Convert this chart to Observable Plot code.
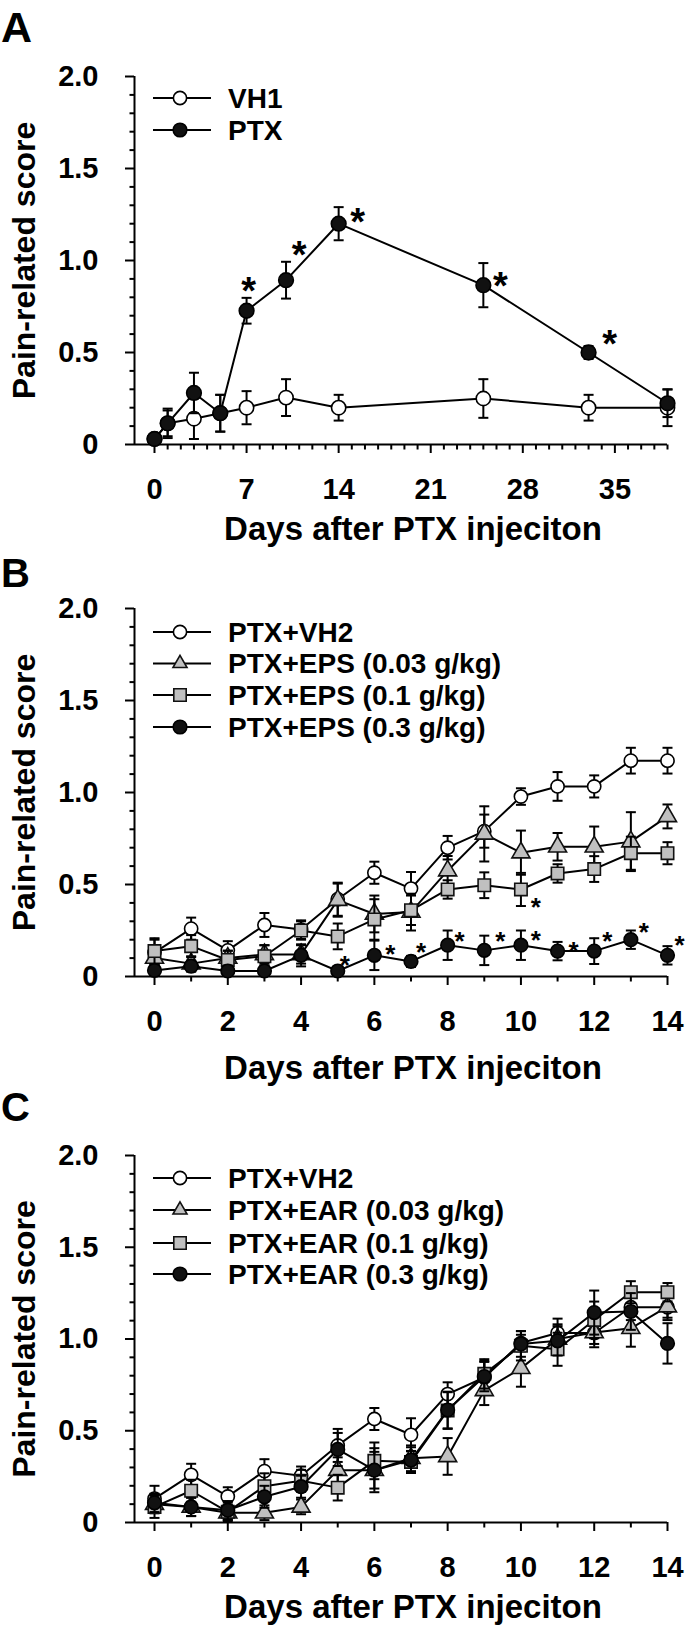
<!DOCTYPE html>
<html>
<head>
<meta charset="utf-8">
<script src="https://cdn.jsdelivr.net/npm/d3@7"></script>
<script src="https://cdn.jsdelivr.net/npm/@observablehq/plot@0.6"></script>
<style>
  body { margin: 0; background: #fff; }
  #fig { position: relative; width: 689px; height: 1640px; background: #fff;
         font-family: Arial, "Liberation Sans", sans-serif; font-weight: bold; color: #000; }
  #fig svg { position: absolute; left: 0; }
</style>
</head>
<body>
<div id="fig"></div>
<script>
// ---------------- DATA ----------------
// Panel A
const daysA = [0, 1, 3, 5, 7, 10, 14, 25, 33, 39];
const vh1    = [0.03, 0.115, 0.14, 0.17, 0.20, 0.255, 0.20, 0.25, 0.20, 0.20];
const vh1Err = [0, 0.07, 0.11, 0.10, 0.09, 0.10, 0.07, 0.105, 0.07, 0.10];
const ptx    = [0.03, 0.115, 0.28, 0.17, 0.727, 0.893, 1.20, 0.866, 0.50, 0.224];
const ptxErr = [0, 0.08, 0.11, 0.10, 0.07, 0.10, 0.09, 0.12, 0.035, 0.075];
const ptxStarDays = [7, 10, 14, 25, 33];
const xTicksA = [0, 7, 14, 21, 28, 35];
const xMinorA = [1,2,3,4,5,6,8,9,10,11,12,13,15,16,17,18,19,20,22,23,24,25,26,27,29,30,31,32,33,34,36,37,38,39];

// Panels B and C (days 0..14)
const daysBC = [0, 1, 2, 3, 4, 5, 6, 7, 8, 9, 10, 11, 12, 13, 14];
const vh2    = [0.13, 0.26, 0.142, 0.28, 0.255, 0.42, 0.564, 0.478, 0.70, 0.79, 0.978, 1.033, 1.033, 1.173, 1.173];
const vh2Err = [0.07, 0.06, 0.05, 0.065, 0.05, 0.09, 0.06, 0.09, 0.064, 0.09, 0.045, 0.078, 0.06, 0.07, 0.07];

const eps003    = [0.10, 0.07, 0.10, 0.12, 0.12, 0.415, 0.34, 0.35, 0.575, 0.775, 0.673, 0.705, 0.705, 0.733, 0.87];
const eps003Err = [0.05, 0.04, 0.04, 0.05, 0.05, 0.09, 0.10, 0.10, 0.08, 0.15, 0.12, 0.075, 0.11, 0.16, 0.065];
const eps01     = [0.138, 0.165, 0.09, 0.11, 0.25, 0.218, 0.31, 0.36, 0.473, 0.496, 0.473, 0.56, 0.584, 0.67, 0.67];
const eps01Err  = [0.07, 0.06, 0.05, 0.06, 0.05, 0.07, 0.11, 0.08, 0.05, 0.07, 0.09, 0.05, 0.07, 0.09, 0.06];
const eps03     = [0.033, 0.056, 0.03, 0.03, 0.115, 0.03, 0.115, 0.082, 0.17, 0.142, 0.17, 0.138, 0.138, 0.20, 0.115];
const eps03Err  = [0.03, 0.03, 0.03, 0.03, 0.06, 0.02, 0.08, 0.03, 0.08, 0.08, 0.08, 0.05, 0.07, 0.05, 0.05];
const eps03StarDays = [5, 6, 7, 8, 9, 10, 11, 12, 13, 14];
const eps01StarDays = [10];

const ear003    = [0.10, 0.085, 0.053, 0.053, 0.085, 0.285, 0.285, 0.35, 0.36, 0.72, 0.84, 1.00, 1.035, 1.058, 1.176];
const ear003Err = [0.05, 0.05, 0.04, 0.04, 0.04, 0.07, 0.10, 0.07, 0.10, 0.08, 0.10, 0.08, 0.08, 0.10, 0.06];
const ear01     = [0.085, 0.173, 0.058, 0.198, 0.227, 0.19, 0.336, 0.33, 0.61, 0.81, 0.963, 0.944, 1.104, 1.255, 1.255];
const ear01Err  = [0.06, 0.06, 0.05, 0.07, 0.06, 0.07, 0.10, 0.06, 0.10, 0.08, 0.08, 0.09, 0.10, 0.06, 0.05];
const ear03     = [0.107, 0.085, 0.067, 0.14, 0.195, 0.398, 0.285, 0.34, 0.613, 0.795, 0.973, 0.99, 1.144, 1.15, 0.976];
const ear03Err  = [0.05, 0.05, 0.05, 0.06, 0.06, 0.09, 0.12, 0.07, 0.10, 0.08, 0.07, 0.08, 0.12, 0.10, 0.11];

const xTicksBC = [0, 2, 4, 6, 8, 10, 12, 14];
const xMinorBC = [1, 3, 5, 7, 9, 11, 13];

const yTicks = [0, 0.5, 1.0, 1.5, 2.0];
const yTickLabels = ["0", "0.5", "1.0", "1.5", "2.0"];
const yMinor = [0.1,0.2,0.3,0.4,0.6,0.7,0.8,0.9,1.1,1.2,1.3,1.4,1.6,1.7,1.8,1.9];

const xTitle = "Days after PTX injeciton";
const yTitle = "Pain-related score";

const legendA = ["VH1", "PTX"];
const legendB = ["PTX+VH2", "PTX+EPS (0.03 g/kg)", "PTX+EPS (0.1 g/kg)", "PTX+EPS (0.3 g/kg)"];
const legendC = ["PTX+VH2", "PTX+EAR (0.03 g/kg)", "PTX+EAR (0.1 g/kg)", "PTX+EAR (0.3 g/kg)"];
const panelLetters = ["A", "B", "C"];

// ---------------- STYLE ----------------
const FONT = 'Arial, "Liberation Sans", sans-serif';
const GRAY = "#c0c0c0";
const STY = {
  open:   {symbol: "circle",   fill: "#ffffff", stroke: "#000", r: 6.6},
  tri:    {symbol: "triangle", fill: GRAY,      stroke: "#111", r: 6.7},
  sq:     {symbol: "square",   fill: GRAY,      stroke: "#111", r: 7.0},
  filled: {symbol: "circle",   fill: "#111",    stroke: "#000", r: 6.8}
};
const capSymbol = {
  draw(ctx, size) { const w = Math.sqrt(size / Math.PI); ctx.moveTo(-w, 0); ctx.lineTo(w, 0); }
};
// minor tick symbols (pixel length)
const downTick = len => ({draw(ctx) { ctx.moveTo(0, 0); ctx.lineTo(0, len); }});
const leftTick = len => ({draw(ctx) { ctx.moveTo(0, 0); ctx.lineTo(-len, 0); }});

function rows(days, vals, errs) {
  return days.map((day, i) => ({day, v: vals[i], e: errs[i]}));
}

function seriesMarks(data, sty, rScale = 1) {
  const eb = data.filter(d => d.e > 0);
  return [
    Plot.line(data, {x: "day", y: "v", stroke: "#000", strokeWidth: 2}),
    Plot.ruleX(eb, {x: "day", y1: d => Math.max(0, d.v - d.e), y2: d => d.v + d.e, stroke: "#000", strokeWidth: 2}),
    Plot.dot(eb, {x: "day", y: d => d.v + d.e, symbol: capSymbol, r: 5, fill: "none", stroke: "#000", strokeWidth: 2}),
    Plot.dot(eb.filter(d => d.v - d.e > 0), {x: "day", y: d => d.v - d.e, symbol: capSymbol, r: 5, fill: "none", stroke: "#000", strokeWidth: 2}),
    Plot.dot(data, {x: "day", y: "v", symbol: sty.symbol, r: sty.r * rScale, fill: sty.fill, stroke: sty.stroke, strokeWidth: 1.6})
  ];
}

function starMarks(data, days, offsets, fs) {
  return days.map((day, i) => Plot.text(data.filter(d => d.day === day), {
    x: "day", y: "v", text: () => "*", fontSize: fs, fontWeight: "bold", fill: "#000",
    dx: offsets[i][0], dy: offsets[i][1] + 0.24 * fs
  }));
}

function axesMarks(xDomain, xMajor, xMinor, titleDy) {
  return [
    Plot.axisY(yTicks, {tickSize: 9, tickPadding: 27, fontSize: 29, fontWeight: "bold", strokeWidth: 2,
      tickFormat: d => yTickLabels[yTicks.indexOf(d)], label: null}),
    Plot.dot(yMinor, {x: xDomain[0], y: d => d, symbol: leftTick(5), r: 3, fill: "none", stroke: "#000", strokeWidth: 2}),
    Plot.axisX(xMajor, {tickSize: 9, tickPadding: 25, fontSize: 29, fontWeight: "bold", strokeWidth: 2, label: null}),
    Plot.dot(xMinor, {x: d => d, y: 0, symbol: downTick(5), r: 3, fill: "none", stroke: "#000", strokeWidth: 2}),
    Plot.ruleX([xDomain[0]], {y1: 0, y2: 2, stroke: "#000", strokeWidth: 2}),
    Plot.ruleY([0], {stroke: "#000", strokeWidth: 2}),
    Plot.text([yTitle], {text: d => d, frameAnchor: "left", textAnchor: "middle", lineAnchor: "middle",
      rotate: -90, dx: -109.5, fontSize: 32, fontWeight: "bold"}),
    Plot.text([xTitle], {text: d => d, frameAnchor: "bottom", textAnchor: "middle", lineAnchor: "middle",
      dx: 12, dy: titleDy, fontSize: 33, fontWeight: "bold"})
  ];
}

function makePanel({top, height, marginTop, marginBottom, xDomain, marks}) {
  const svg = Plot.plot({
    width: 689, height, marginTop, marginBottom, marginLeft: 134, marginRight: 22,
    style: {background: "transparent", fontFamily: FONT, fontWeight: "bold", color: "#000", overflow: "visible"},
    x: {domain: xDomain},
    y: {domain: [0, 2]},
    marks
  });
  svg.style.top = top + "px";
  svg.style.position = "absolute";
  document.getElementById("fig").appendChild(svg);
}

// ---------------- PANEL A ----------------
const dVH1 = rows(daysA, vh1, vh1Err);
const dPTX = rows(daysA, ptx, ptxErr);
makePanel({
  top: 0, height: 548, marginTop: 76, marginBottom: 104, xDomain: [-1.52, 39],
  marks: [
    ...axesMarks([-1.52, 39], xTicksA, xMinorA, 85),
    ...seriesMarks(dVH1, STY.open, 1.08),
    ...seriesMarks(dPTX, STY.filled, 1.08),
    ...starMarks(dPTX, ptxStarDays, [[2, -28], [13, -33], [19, -10], [17, -7], [21, -17]], 38)
  ]
});

// ---------------- PANEL B ----------------
const dVH2 = rows(daysBC, vh2, vh2Err);
const dE003 = rows(daysBC, eps003, eps003Err);
const dE01 = rows(daysBC, eps01, eps01Err);
const dE03 = rows(daysBC, eps03, eps03Err);
makePanel({
  top: 548, height: 547, marginTop: 60, marginBottom: 119, xDomain: [-0.546, 14],
  marks: [
    ...axesMarks([-0.546, 14], xTicksBC, xMinorBC, 92),
    ...seriesMarks(dVH2, STY.open),
    ...seriesMarks(dE003, STY.tri),
    ...seriesMarks(dE01, STY.sq),
    ...seriesMarks(dE03, STY.filled),
    ...starMarks(dE03, eps03StarDays,
      [[7, -12], [16, -7], [10, -15], [12, -10], [16, -15], [15, -11], [16, -6], [13, -16], [13, -13], [12, -16]], 26),
    ...starMarks(dE01, eps01StarDays, [[15, 12]], 26)
  ]
});

// ---------------- PANEL C ----------------
const dR003 = rows(daysBC, ear003, ear003Err);
const dR01 = rows(daysBC, ear01, ear01Err);
const dR03 = rows(daysBC, ear03, ear03Err);
makePanel({
  top: 1095, height: 545, marginTop: 60, marginBottom: 118, xDomain: [-0.546, 14],
  marks: [
    ...axesMarks([-0.546, 14], xTicksBC, xMinorBC, 85),
    ...seriesMarks(dVH2, STY.open),
    ...seriesMarks(dR003, STY.tri),
    ...seriesMarks(dR01, STY.sq),
    ...seriesMarks(dR03, STY.filled)
  ]
});

// ---------------- OVERLAY: panel letters + legends ----------------
const ov = d3.select("#fig").append("svg")
  .attr("width", 689).attr("height", 1640)
  .style("top", "0px").style("position", "absolute").style("pointer-events", "none")
  .attr("font-family", FONT).attr("font-weight", "bold");

const letterPos = [[1, 42, 43], [1, 587, 40], [1, 1121, 40]];
panelLetters.forEach((L, i) => {
  ov.append("text").attr("x", letterPos[i][0]).attr("y", letterPos[i][1])
    .attr("font-size", letterPos[i][2]).text(L);
});

function symPath(sty, scale = 1) {
  const map = {circle: d3.symbolCircle, triangle: d3.symbolTriangle2, square: d3.symbolSquare};
  const r = sty.r * scale;
  return d3.symbol(map[sty.symbol], Math.PI * r * r)();
}

function legend(labels, styles, ys, scale = 1) {
  labels.forEach((lab, i) => {
    const y = ys[i];
    ov.append("line").attr("x1", 153).attr("x2", 211).attr("y1", y).attr("y2", y)
      .attr("stroke", "#000").attr("stroke-width", 2);
    ov.append("path").attr("d", symPath(styles[i], scale)).attr("transform", `translate(180,${y})`)
      .attr("fill", styles[i].fill).attr("stroke", styles[i].stroke).attr("stroke-width", 1.6);
    ov.append("text").attr("x", 228).attr("y", y).attr("dy", "0.35em").attr("font-size", 28).text(lab);
  });
}
legend(legendA, [STY.open, STY.filled], [98, 130], 1.0);
legend(legendB, [STY.open, STY.tri, STY.sq, STY.filled], [632, 663.5, 695, 727]);
legend(legendC, [STY.open, STY.tri, STY.sq, STY.filled], [1178, 1210, 1243, 1274]);
</script>
</body>
</html>
